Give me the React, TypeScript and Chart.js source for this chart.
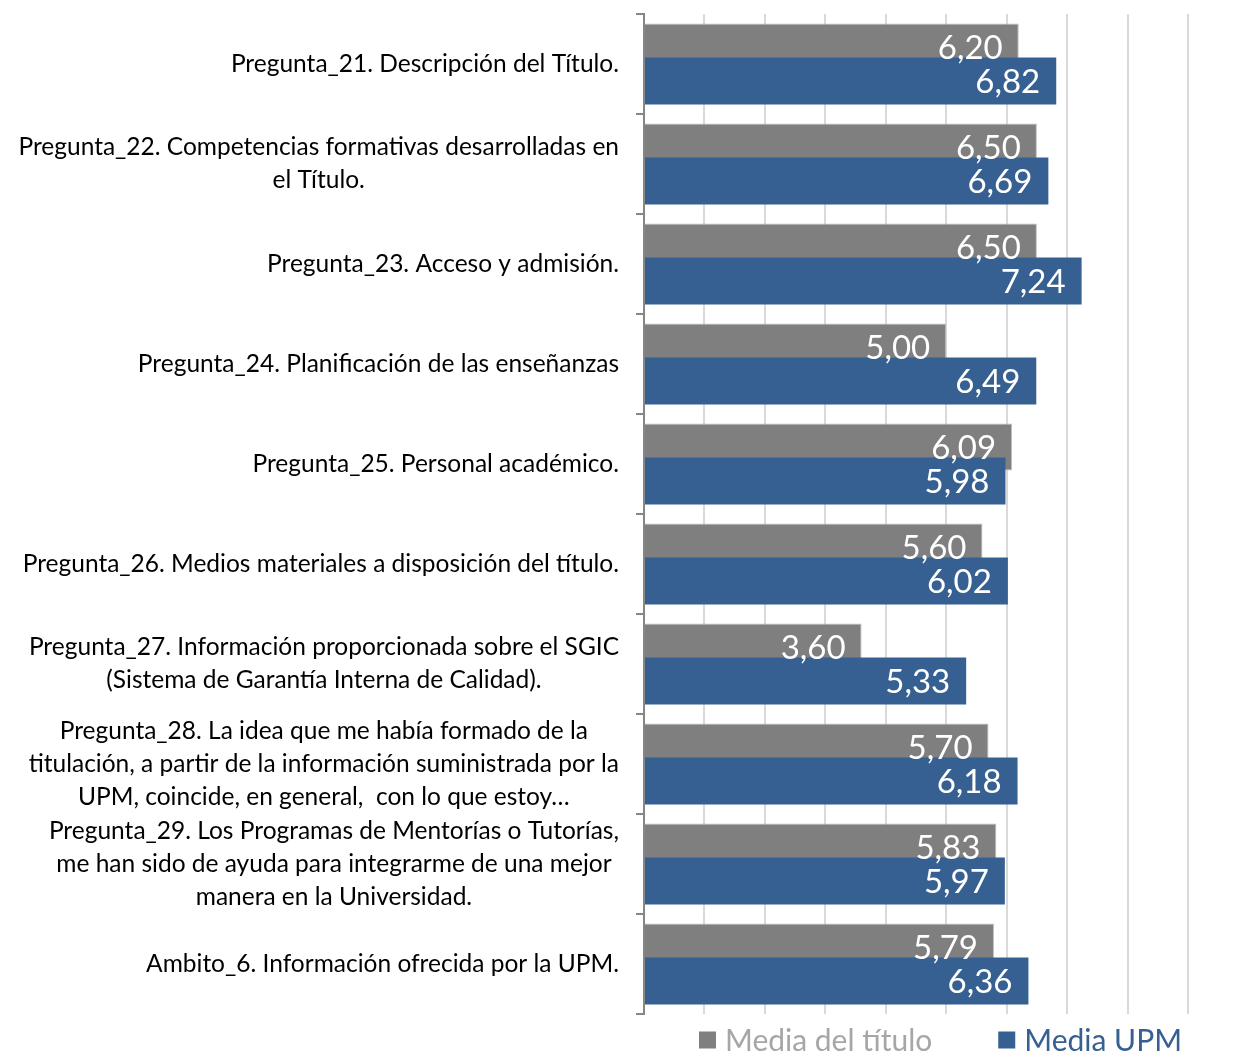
import React, { useEffect, useRef } from 'react';
import { Chart, registerables } from 'chart.js';

Chart.register(...registerables);

const categories: (string | string[])[] = [
  'Pregunta_21. Descripción del Título.',
  ['Pregunta_22. Competencias formativas desarrolladas en', 'el Título.'],
  'Pregunta_23. Acceso y admisión.',
  'Pregunta_24. Planificación de las enseñanzas',
  'Pregunta_25. Personal académico.',
  'Pregunta_26. Medios materiales a disposición del título.',
  ['Pregunta_27. Información proporcionada sobre el SGIC', '(Sistema de Garantía Interna de Calidad).'],
  [
    'Pregunta_28. La idea que me había formado de la',
    'titulación, a partir de la información suministrada por la',
    'UPM, coincide, en general,  con lo que estoy…',
  ],
  [
    'Pregunta_29. Los Programas de Mentorías o Tutorías,',
    'me han sido de ayuda para integrarme de una mejor',
    'manera en la Universidad.',
  ],
  'Ambito_6. Información ofrecida por la UPM.',
];

const mediaTitulo = [6.2, 6.5, 6.5, 5.0, 6.09, 5.6, 3.6, 5.7, 5.83, 5.79];
const mediaUPM = [6.82, 6.69, 7.24, 6.49, 5.98, 6.02, 5.33, 6.18, 5.97, 6.36];
const seriesNames = ['Media del título', 'Media UPM'];
const xMin = 0;
const xMax = 9;
const xStep = 1;

const FONT = "Lato, 'Open Sans', sans-serif";
const GRAY = '#7f7f7f';
const BLUE = '#376092';
const legendTextColors = ['#a6a6a6', BLUE];

const fmt = (v: number) => v.toFixed(2).replace('.', ',');

const drawOrderPlugin = {
  id: 'drawOrder',
  beforeDatasetsDraw(chart: any) {
    for (let i = 0; i < chart.data.datasets.length; i++) {
      const meta = chart.getDatasetMeta(i);
      if (!meta.hidden) meta.controller.draw();
    }
    return false;
  },
};

const labelsPlugin = {
  id: 'customLabels',
  afterDraw(chart: any) {
    const ctx = chart.ctx;
    const area = chart.chartArea;
    ctx.save();
    // data labels
    ctx.font = `33px ${FONT}`;
    ctx.fillStyle = '#ffffff';
    ctx.textAlign = 'right';
    ctx.textBaseline = 'middle';
    chart.data.datasets.forEach((ds: any, i: number) => {
      const meta = chart.getDatasetMeta(i);
      meta.data.forEach((bar: any, j: number) => {
        const p = bar.getProps(['x', 'y'], true);
        ctx.fillText(fmt(ds.data[j]), p.x - 16, p.y + 1);
      });
    });
    // category labels
    const yScale = chart.scales.y;
    ctx.font = `24.5px ${FONT}`;
    ctx.fillStyle = '#000000';
    ctx.textAlign = 'center';
    const lineH = 33;
    const right = area.left - 25;
    categories.forEach((c, i) => {
      const lines = Array.isArray(c) ? c : [c];
      const maxW = Math.max(...lines.map((l) => ctx.measureText(l).width));
      const cx = right - maxW / 2;
      const cy = yScale.getPixelForTick(i);
      lines.forEach((l, k) => {
        ctx.fillText(l, cx, cy + (k - (lines.length - 1) / 2) * lineH);
      });
    });
    // legend
    ctx.font = `30px ${FONT}`;
    ctx.textAlign = 'left';
    const box = 17;
    const gapText = 9;
    const gapItem = 66;
    const widths = seriesNames.map((n) => box + gapText + ctx.measureText(n).width);
    const total = widths.reduce((a, b) => a + b, 0) + gapItem * (seriesNames.length - 1);
    let x = area.right - 6 - total;
    const ly = area.bottom + 26;
    seriesNames.forEach((n, i) => {
      const ds = chart.data.datasets[i];
      ctx.fillStyle = ds.backgroundColor;
      ctx.fillRect(x, ly - box / 2, box, box);
      ctx.fillStyle = legendTextColors[i];
      ctx.fillText(n, x + box + gapText, ly + 1);
      x += widths[i] + gapItem;
    });
    ctx.restore();
  },
};

export default function App() {
  const ref = useRef<HTMLCanvasElement>(null);
  useEffect(() => {
    if (!ref.current) return;
    const chart = new Chart(ref.current, {
      type: 'bar',
      data: {
        labels: categories as any,
        datasets: [
          {
            label: seriesNames[0],
            data: mediaTitulo,
            backgroundColor: GRAY,
            borderColor: '#bfbfbf',
            borderWidth: 1,
            categoryPercentage: 0.68,
            barPercentage: 1.38,
          },
          {
            label: seriesNames[1],
            data: mediaUPM,
            backgroundColor: BLUE,
            borderWidth: 0,
            categoryPercentage: 0.68,
            barPercentage: 1.38,
          },
        ],
      },
      options: {
        indexAxis: 'y',
        responsive: true,
        maintainAspectRatio: false,
        animation: false,
        layout: { padding: { left: 628, right: 41, top: 6, bottom: 38 } },
        plugins: {
          legend: { display: false },
          tooltip: { enabled: false },
        },
        scales: {
          x: {
            min: xMin,
            max: xMax,
            ticks: { display: false, stepSize: xStep },
            grid: { color: '#d9d9d9', lineWidth: 2, drawTicks: false },
            border: { display: false },
          },
          y: {
            z: 1,
            ticks: { display: false },
            grid: {
              offset: true,
              drawOnChartArea: false,
              drawTicks: true,
              tickLength: 8,
              color: '#868686',
              lineWidth: 2,
            },
            border: { display: true, color: '#868686', width: 2 },
          },
        },
      },
      plugins: [drawOrderPlugin, labelsPlugin],
    });
    return () => chart.destroy();
  }, []);
  return (
    <div style={{ width: 1221, height: 1044, position: 'relative' }}>
      <canvas ref={ref} />
    </div>
  );
}
